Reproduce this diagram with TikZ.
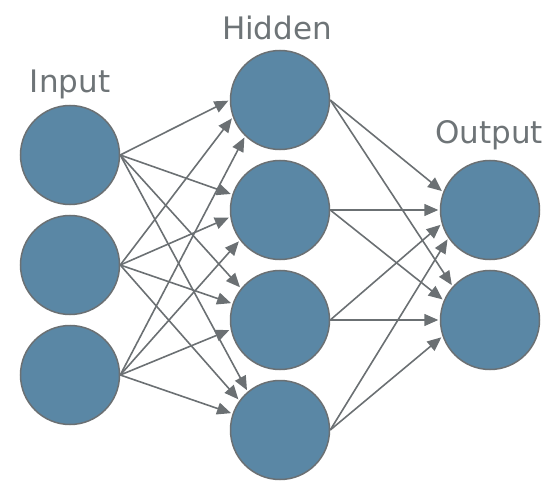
\documentclass[tikz,border=0pt]{standalone}
\usepackage{fontspec}
\setmainfont{DejaVu Sans}
\usetikzlibrary{arrows.meta}
\definecolor{nfill}{HTML}{5A87A5}
\definecolor{nline}{HTML}{6B7073}
\definecolor{ntext}{HTML}{6E7477}
\begin{document}
\begin{tikzpicture}[x=1pt,y=-1pt,
  neuron/.style={circle,draw=nline,fill=nfill,line width=1.5pt,minimum size=99pt,inner sep=0pt},
  conn/.style={draw=nline,line width=1.6pt,-{Triangle[length=14pt,width=12pt]},shorten >=1.5pt},
  lbl/.style={text=ntext,font=\fontsize{31}{36}\selectfont,anchor=base,inner sep=0pt}]
\useasboundingbox (0,0) rectangle (560,500);
\node[neuron] (i1) at (70,155) {};
\node[neuron] (i2) at (70,265) {};
\node[neuron] (i3) at (70,375) {};
\node[neuron] (h1) at (280,100) {};
\node[neuron] (h2) at (280,210) {};
\node[neuron] (h3) at (280,320) {};
\node[neuron] (h4) at (280,430) {};
\node[neuron] (o1) at (490,210) {};
\node[neuron] (o2) at (490,320) {};
\node[lbl] (tin) at (70,93) {Input};
\node[lbl] (thid) at (277,40) {Hidden};
\node[lbl] (tout) at (489,144) {Output};
% input -> hidden
\draw[conn] (i1.east) -- (h1.180);
\draw[conn] (i2.east) -- (h1.200);
\draw[conn] (i3.east) -- (h1.226);
\draw[conn] (i1.east) -- (h2.162);
\draw[conn] (i2.east) -- (h2.188);
\draw[conn] (i3.east) -- (h2.217);
\draw[conn] (i1.east) -- (h3.141);
\draw[conn] (i2.east) -- (h3.161);
\draw[conn] (i3.east) -- (h3.191);
\draw[conn] (i1.east) -- (h4.130);
\draw[conn] (i2.east) -- (h4.144);
\draw[conn] (i3.east) -- (h4.161);
% hidden -> output
\draw[conn] (h1.east) -- (o1.159);
\draw[conn] (h2.east) -- (o1.180);
\draw[conn] (h3.east) -- (o1.196);
\draw[conn] (h4.east) -- (o1.214);
\draw[conn] (h1.east) -- (o2.138);
\draw[conn] (h2.east) -- (o2.157);
\draw[conn] (h3.east) -- (o2.180);
\draw[conn] (h4.east) -- (o2.199);
\end{tikzpicture}
\end{document}
